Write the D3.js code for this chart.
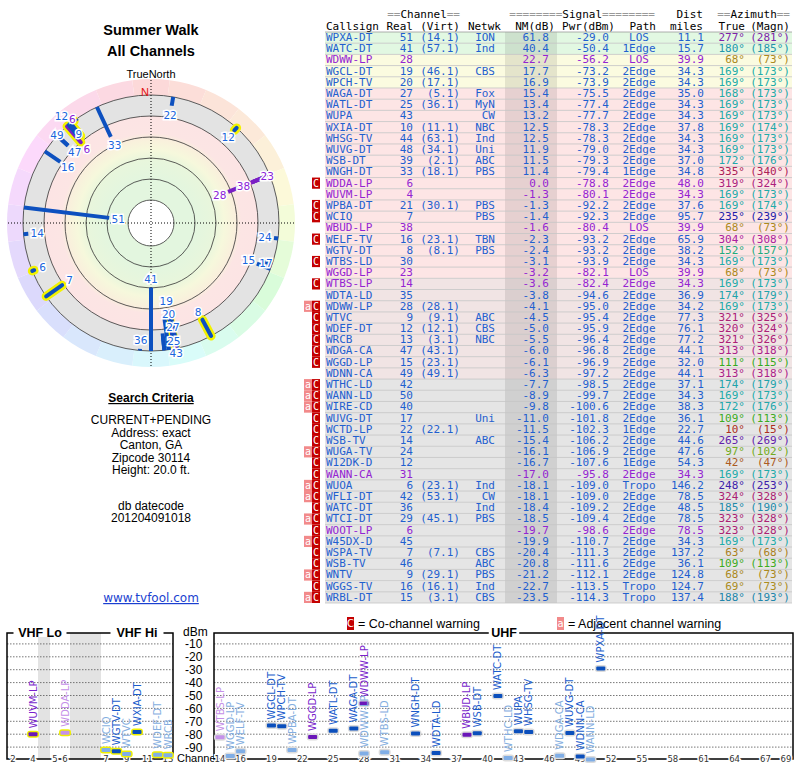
<!DOCTYPE html>
<html><head><meta charset="utf-8">
<script src="https://cdn.jsdelivr.net/npm/d3@7"></script>
<style>body{margin:0;background:#fff}</style>
</head><body>
<script>
// station table
const callsigns = ["WPXA-DT","WATC-DT","WDWW-LP","WGCL-DT","WPCH-TV","WAGA-DT","WATL-DT","WUPA","WXIA-DT","WHSG-TV","WUVG-DT","WSB-DT","WNGH-DT","WDDA-LP","WUVM-LP","WPBA-DT","WCIQ","WBUD-LP","WELF-TV","WGTV-DT","WTBS-LD","WGGD-LP","WTBS-LP","WDTA-LD","WDWW-LP","WTVC","WDEF-DT","WRCB","WDGA-CA","WGGD-LP","WDNN-CA","WTHC-LD","WANN-LD","WIRE-CD","WUVG-DT","WCTD-LP","WSB-TV","WUGA-TV","W12DK-D","WANN-CA","WUOA","WFLI-DT","WATC-DT","WTCI-DT","WOOT-LP","W45DX-D","WSPA-TV","WSB-TV","WNTV","WGGS-TV","WRBL-DT"];
const realCh = [51,41,28,19,20,27,25,43,10,44,48,39,33,6,4,21,7,38,16,8,30,23,14,35,28,9,12,13,47,15,49,42,50,40,17,22,14,24,12,31,6,42,36,29,6,45,7,46,9,16,15];
const virtCh = ["14.1","57.1","","46.1","17.1","5.1","36.1","","11.1","63.1","34.1","2.1","18.1","","","30.1","","","23.1","8.1","","","","","28.1","9.1","12.1","3.1","43.1","23.1","49.1","","","","","22.1","","","","","23.1","53.1","","45.1","","","7.1","","29.1","16.1","3.1"];
const networks = ["ION","Ind","","CBS","","Fox","MyN","CW","NBC","Ind","Uni","ABC","PBS","","","PBS","PBS","","TBN","PBS","","","","","","ABC","CBS","NBC","","","","","","","Uni","","ABC","","","","Ind","CW","Ind","PBS","","","CBS","ABC","PBS","Ind","CBS"];
const nmDb = [61.8,40.4,22.7,17.7,16.9,15.4,13.4,13.2,12.5,12.5,11.9,11.5,11.4,0.0,-1.3,-1.3,-1.4,-1.6,-2.3,-2.4,-3.1,-3.2,-3.6,-3.8,-4.1,-4.5,-5.0,-5.5,-6.0,-6.1,-6.3,-7.7,-8.9,-9.8,-11.0,-11.5,-15.4,-16.1,-16.7,-17.0,-18.1,-18.1,-18.4,-18.5,-19.7,-19.9,-20.4,-20.8,-21.2,-22.7,-23.5];
const pwrDbm = [-29.0,-50.4,-56.2,-73.2,-73.9,-75.5,-77.4,-77.7,-78.3,-78.3,-79.0,-79.3,-79.4,-78.8,-80.1,-92.2,-92.3,-80.4,-93.2,-93.2,-93.9,-82.1,-82.4,-94.6,-95.0,-95.4,-95.9,-96.4,-96.8,-96.9,-97.2,-98.5,-99.7,-100.6,-101.8,-102.3,-106.2,-106.9,-107.6,-95.8,-109.0,-109.0,-109.2,-109.4,-98.6,-110.7,-111.3,-111.6,-112.1,-113.5,-114.3];
const paths = ["LOS","1Edge","LOS","2Edge","2Edge","2Edge","2Edge","2Edge","2Edge","2Edge","2Edge","2Edge","1Edge","2Edge","2Edge","2Edge","2Edge","LOS","2Edge","2Edge","2Edge","LOS","2Edge","2Edge","2Edge","2Edge","2Edge","2Edge","2Edge","2Edge","2Edge","2Edge","2Edge","2Edge","2Edge","1Edge","2Edge","2Edge","1Edge","2Edge","Tropo","2Edge","2Edge","2Edge","2Edge","2Edge","2Edge","2Edge","2Edge","Tropo","Tropo"];
const distMiles = [11.1,15.7,39.9,34.3,34.3,35.0,34.3,34.3,37.8,34.3,34.3,37.0,34.8,48.0,34.3,37.6,95.7,39.9,65.9,38.2,34.3,39.9,34.3,36.9,34.2,77.3,76.1,77.2,44.1,32.0,44.1,37.1,34.3,38.3,36.1,22.7,44.6,47.6,54.3,34.3,146.2,78.5,48.5,78.5,78.5,34.3,137.2,36.1,124.8,124.7,137.4];
const azTrue = [277,180,68,169,169,168,169,169,169,169,169,172,335,319,169,169,235,68,304,152,169,68,169,174,169,321,320,321,313,111,313,174,169,172,109,10,265,97,42,169,248,324,185,323,323,169,63,109,68,69,188];
const azMagn = [281,185,73,173,173,173,173,173,174,173,173,176,340,324,173,174,239,73,308,157,173,73,173,179,173,325,324,326,318,115,318,179,173,176,113,15,269,102,47,173,253,328,190,328,328,173,68,113,73,73,193];
const lowPower = [0,0,1,0,0,0,0,0,0,0,0,0,0,1,1,0,0,1,0,0,0,1,1,0,0,0,0,0,0,0,0,0,0,0,0,0,0,0,0,1,0,0,0,0,1,0,0,0,0,0,0];
const warnings = ["","","","","","","","","","","","","","C","","C","C","","C","","C","","C","","aC","C","C","C","C","C","","aC","aC","aC","C","C","C","aC","C","C","aC","aC","C","aC","C","aC","C","C","aC","C","aC"];

const ringDb = [80,60,40,20,0,-20];
const dbmTicks = [-10,-20,-30,-40,-50,-60,-70,-80,-90];
const vhfTicks = [2,4,5,6,7,9,11,13];
const uhfTicks = [14,16,19,22,25,28,31,34,37,40,43,46,49,52,55,58,61,64,67,69];

const stations = callsigns.map((c,i) => ({
  call:c, ch:realCh[i], virt:virtCh[i], net:networks[i], nm:nmDb[i], pwr:pwrDbm[i],
  path:paths[i], dist:distMiles[i], az:azTrue[i], azm:azMagn[i], lp:lowPower[i], warn:warnings[i], i
}));

const SANS = "'Liberation Sans', Arial, sans-serif";
const DJ = "'DejaVu Sans', Verdana, sans-serif";
const MONO = "'DejaVu Sans Mono', monospace";
const BLUE = "#1f60cf", PURPLE = "#9424d2";

const svg = d3.select("body").append("svg").attr("width",800).attr("height",768)
  .style("font-family", SANS);

const hue = d3.scaleLinear().domain([0,42,68,97,110,170,235,360]).range([0,25,45,85,110,180,240,360]);
const azColor = a => d3.hsl(hue(a), 0.68, 0.4).formatHex();
const azPale = a => d3.hsl(hue(a), 0.85, 0.92).formatHex();

// ---------- titles ----------
svg.append("text").attr("x",151).attr("y",35).attr("text-anchor","middle")
  .style("font-weight","bold").style("font-size","14.5px").text("Summer Walk");
svg.append("text").attr("x",151).attr("y",56).attr("text-anchor","middle")
  .style("font-weight","bold").style("font-size","14.5px").text("All Channels");
svg.append("text").attr("x",151).attr("y",78).attr("text-anchor","middle")
  .style("font-size","11px").text("TrueNorth");

// ---------- polar plot ----------
const cx = 151, cy = 223;
const rScale = d3.scaleLinear().domain([80,-20]).range([23,128]);
const polar = svg.append("g").attr("transform",`translate(${cx},${cy})`);

const defs = svg.append("defs");
const grad = defs.append("radialGradient").attr("id","zones").attr("gradientUnits","userSpaceOnUse")
  .attr("cx",0).attr("cy",0).attr("r",rScale(-20));
[[rScale(60),"#e3f6df"],[rScale(42),"#e8f6dc"],[rScale(32),"#f6f8dc"],[rScale(22),"#f9f0dc"],
 [rScale(16),"#fce5e4"],[rScale(0),"#fce4e4"],[rScale(0)+0.01,"#e3e3e3"],[rScale(-20),"#e3e3e3"]]
  .forEach(([r,c]) => grad.append("stop").attr("offset", r/rScale(-20)).attr("stop-color",c));

const wedges = d3.range(0,360,15);
const wedgeArc = d3.arc().innerRadius(rScale(-20)).outerRadius(144);
polar.selectAll("path.wedge").data(wedges).join("path").attr("class","wedge")
  .attr("d", a => wedgeArc({startAngle:(a-7.5)*Math.PI/180, endAngle:(a+7.5)*Math.PI/180}))
  .attr("fill", a => azPale(a));
polar.append("circle").attr("r",rScale(-20)).attr("fill","url(#zones)");
polar.append("circle").attr("r",rScale(80)).attr("fill","#fff");
polar.selectAll("circle.ring").data(ringDb).join("circle").attr("class","ring")
  .attr("r", d => rScale(d)).attr("fill","none").attr("stroke","#333").attr("stroke-width",0.8);
polar.append("line").attr("x1",-143).attr("x2",143).attr("stroke","#000").attr("stroke-dasharray","1,2");
polar.append("line").attr("y1",-143).attr("y2",143).attr("stroke","#000").attr("stroke-dasharray","1,2");
polar.append("text").attr("x",-6).attr("y",-rScale(-20)+1).attr("text-anchor","middle")
  .style("font-size","11px").attr("fill","#e01010").text("N");

const polarData = stations.filter(d => d.nm >= -20);
const rad = a => a*Math.PI/180;
const spoke = d => {
  const [x1,y1] = d3.pointRadial(rad(d.az), rScale(-20));
  const [x2,y2] = d3.pointRadial(rad(d.az), rScale(d.nm));
  return `M${x1},${y1}L${x2},${y2}`;
};
polar.selectAll("path.halo").data(polarData.filter(d => d.ch < 14)).join("path").attr("class","halo")
  .attr("d", spoke).attr("stroke","#f2f200").attr("stroke-width",9).attr("stroke-linecap","round").attr("fill","none");
polar.selectAll("path.spoke").data(polarData).join("path").attr("class","spoke")
  .attr("d", spoke).attr("stroke", d => d.lp ? "#7a1fc4" : "#0d50bf")
  .attr("stroke-width",4).attr("stroke-linecap", d => d.ch < 14 ? "round" : "butt").attr("fill","none");

// channel labels, pushed outward when they collide
const placed = [];
polarData.forEach(d => {
  const w = String(d.ch).length*6.5 + 1;
  for (let r = rScale(d.nm) - 9; r <= 142; r += 12) {
    const [px,py] = d3.pointRadial(rad(d.az), r);
    if (!placed.some(p => Math.abs(p.x-px) < (p.w+w)/2 && Math.abs(p.y-py) < 10)) {
      placed.push({x:px, y:py, w, d});
      break;
    }
  }
});
polar.selectAll("text.lab").data(placed).join("text").attr("class","lab")
  .attr("x", p => p.x).attr("y", p => p.y + 4).attr("text-anchor","middle")
  .style("font-family", DJ).style("font-size","10.5px")
  .attr("fill", p => p.d.lp ? "#8a22d8" : "#1a66dd")
  .attr("stroke","#fff").attr("stroke-width",3).attr("paint-order","stroke")
  .text(p => p.d.ch);

// ---------- search criteria ----------
svg.append("text").attr("x",151).attr("y",402).attr("text-anchor","middle")
  .style("font-weight","bold").style("font-size","12px").style("text-decoration","underline").text("Search Criteria");
const criteria = ["CURRENT+PENDING","Address: exact","Canton, GA","Zipcode 30114","Height: 20.0 ft."];
svg.selectAll("text.crit").data(criteria).join("text").attr("class","crit")
  .attr("x",151).attr("y",(d,i) => 424 + i*12.5).attr("text-anchor","middle")
  .style("font-size","12px").text(d => d);
svg.append("text").attr("x",151).attr("y",510).attr("text-anchor","middle").style("font-size","12px").text("db datecode");
svg.append("text").attr("x",151).attr("y",522).attr("text-anchor","middle").style("font-size","12px").text("201204091018");
svg.append("text").attr("x",151).attr("y",602).attr("text-anchor","middle")
  .style("font-family",DJ).style("font-size","12px").style("text-decoration","underline")
  .attr("fill","#1a3fd0").text("www.tvfool.com");

// ---------- table ----------
const rowY = d3.scaleBand().domain(stations.map(d => d.i)).range([32,603]);
const rowFill = nm => nm >= 30 ? "#e2f8e2" : nm >= 16 ? "#fbfbe0" : nm >= -3.5 ? "#fde5e5" : nm >= -7 ? "#f1e4e4" : "#e5e5e5";
const tbl = svg.append("g").style("font-family", MONO).style("font-size","11px");

tbl.selectAll("rect.row").data(stations).join("rect").attr("class","row")
  .attr("x",325).attr("y", d => rowY(d.i)).attr("width",467).attr("height",rowY.bandwidth())
  .attr("fill", d => rowFill(d.nm));
tbl.append("rect").attr("x",505).attr("y",32).attr("width",52).attr("height",571).attr("fill","#000").attr("opacity",0.09);
tbl.selectAll("line.sep").data(stations).join("line").attr("class","sep")
  .attr("x1",325).attr("x2",792).attr("y1", d => rowY(d.i)+rowY.bandwidth()).attr("y2", d => rowY(d.i)+rowY.bandwidth())
  .attr("stroke","#c4c4c4").attr("stroke-width",0.8);
tbl.append("line").attr("x1",325).attr("x2",792).attr("y1",32).attr("y2",32).attr("stroke","#999").attr("stroke-width",0.8);

// header
const hdr1 = [["==","Channel","==",460],["========","Signal","========",655],["","Dist","",703],["==","Azimuth","==",790]];
hdr1.forEach(([a,b,c,x]) => {
  const t = tbl.append("text").attr("x",x).attr("y",18).attr("text-anchor","end");
  t.append("tspan").attr("fill","#999").text(a);
  t.append("tspan").attr("fill","#000").text(b);
  t.append("tspan").attr("fill","#999").text(c);
});
const hdr2 = [["Callsign",326,"start"],["Real",413,"end"],["(Virt)",460,"end"],["Netwk",501,"end"],["NM(dB)",555,"end"],
  ["Pwr(dBm)",615,"end"],["Path",656,"end"],["miles",703,"end"],["True",745,"end"],["(Magn)",790,"end"]];
tbl.selectAll("text.h2").data(hdr2).join("text").attr("class","h2")
  .attr("x", d => d[1]).attr("y",29.5).attr("text-anchor", d => d[2]).text(d => d[0]);

const cols = [
  {x:326, a:"start", f:d => d.call},
  {x:413, a:"end", f:d => d.ch},
  {x:460, a:"end", f:d => d.virt ? `(${d.virt})` : ""},
  {x:495, a:"end", f:d => d.net},
  {x:549, a:"end", f:d => d.nm.toFixed(1)},
  {x:609, a:"end", f:d => d.pwr.toFixed(1)},
  {x:639, a:"middle", f:d => d.path},
  {x:704, a:"end", f:d => d.dist.toFixed(1)},
  {x:745, a:"end", f:d => d.az + "°", az:true},
  {x:790, a:"end", f:d => `(${d.azm}°)`, az:true}
];
const rows = tbl.selectAll("g.r").data(stations).join("g").attr("class","r")
  .attr("transform", d => `translate(0,${rowY(d.i) + 9})`);
cols.forEach(c => {
  rows.append("text").attr("x",c.x).attr("text-anchor",c.a)
    .attr("fill", d => c.az ? azColor(d.az) : (d.lp ? PURPLE : BLUE)).text(c.f);
});
// warning flags
rows.filter(d => d.warn.includes("C")).append("rect").attr("x",312).attr("y",-9)
  .attr("width",8).attr("height",rowY.bandwidth()).attr("fill","#c40000");
rows.filter(d => d.warn.includes("C")).append("text").attr("x",316).attr("text-anchor","middle")
  .attr("fill","#fff").style("font-size","10px").text("C");
rows.filter(d => d.warn.includes("a")).append("rect").attr("x",304).attr("y",-9)
  .attr("width",8).attr("height",rowY.bandwidth()).attr("fill","#f28a8a");
rows.filter(d => d.warn.includes("a")).append("text").attr("x",308).attr("text-anchor","middle")
  .attr("fill","#fff").style("font-size","10px").text("a");

// ---------- spectrum ----------
const yDbm = d3.scaleLinear().domain([0,-100]).range([631,760]);
const xVHF = d3.scaleLinear().domain([2,4,5,6,7,13]).range([13,33,55,65,106,168]);
const xUHF = d3.scaleLinear().domain([14,69]).range([220,786]);
const spec = svg.append("g").style("font-family", DJ);
const yTop = 633, yBot = 759;

// gaps in VHF band
[[4,5],[6,7]].forEach(([a,b]) => spec.append("rect").attr("x",xVHF(a)+5).attr("y",yTop)
  .attr("width",xVHF(b)-xVHF(a)-10).attr("height",yBot-yTop).attr("fill","#e3e3e3"));

const panels = [{x0:7,x1:173},{x0:214,x1:793}];
panels.forEach(p => {
  spec.selectAll(null).data(dbmTicks).join("line")
    .attr("x1",p.x0).attr("x2",p.x1).attr("y1",d => yDbm(d)).attr("y2",d => yDbm(d))
    .attr("stroke","#555").attr("stroke-width",0.8).attr("stroke-dasharray","1.5,1.5");
  spec.append("rect").attr("x",p.x0).attr("y",yTop).attr("width",p.x1-p.x0).attr("height",yBot-yTop)
    .attr("fill","none").attr("stroke","#000").attr("stroke-width",1.5);
});

// panel titles sitting on the frame
[["VHF Lo",40],["VHF Hi",137],["UHF",504]].forEach(([t,x]) => {
  const w = t.length*7.5 + 8;
  spec.append("rect").attr("x",x-w/2).attr("y",yTop-4).attr("width",w).attr("height",8).attr("fill","#fff");
  spec.append("text").attr("x",x).attr("y",yTop+4).attr("text-anchor","middle")
    .style("font-family",SANS).style("font-weight","bold").style("font-size","12.5px").text(t);
});

// dBm axis
spec.append("text").attr("x",183).attr("y",yTop+3).style("font-family",SANS).style("font-size","12px").text("dBm");
spec.selectAll("text.dbm").data(dbmTicks).join("text").attr("class","dbm")
  .attr("x",185).attr("y",d => yDbm(d)+4.5).style("font-family",SANS).style("font-size","12px").text(d => d);
spec.append("text").attr("x",177).attr("y",yBot+3).style("font-family",SANS).style("font-size","11px").text("Channel");

// channel axes
const tickLabels = (ticks, x) => spec.selectAll(null).data(ticks).join("text")
  .attr("x", d => x(d)).attr("y", yBot+3).attr("text-anchor","middle")
  .style("font-size","8.5px").attr("fill","#333")
  .attr("stroke","#fff").attr("stroke-width",3).attr("paint-order","stroke").text(d => d);
tickLabels(vhfTicks, xVHF);
tickLabels(uhfTicks, xUHF);

// legend
spec.append("rect").attr("x",347).attr("y",617).attr("width",7).attr("height",13).attr("fill","#c40000");
spec.append("text").attr("x",350.5).attr("y",627).attr("text-anchor","middle").attr("fill","#fff").style("font-size","10px").text("C");
spec.append("text").attr("x",358).attr("y",628).style("font-size","12.5px").style("font-family",SANS).text("= Co-channel warning");
spec.append("rect").attr("x",557).attr("y",617).attr("width",7).attr("height",13).attr("fill","#f28a8a");
spec.append("text").attr("x",560.5).attr("y",627).attr("text-anchor","middle").attr("fill","#fff").style("font-size","10px").text("a");
spec.append("text").attr("x",568).attr("y",628).style("font-size","12.5px").style("font-family",SANS).text("= Adjacent channel warning");

const specData = stations.filter(d => d.nm > -10 && d.pwr >= -100)
  .map(d => ({...d, x: d.ch < 14 ? xVHF(d.ch) : xUHF(d.ch), light: d.warn.includes("C")}));
const markFill = d => d.lp ? (d.light ? "#c592ea" : "#6a17b8") : (d.light ? "#80aee6" : "#0b4fbc");
const labFill = d => d.lp ? (d.light ? "#c590e8" : "#7a1fcc") : (d.light ? "#84aee0" : "#1a5ccc");

spec.selectAll("rect.mh").data(specData).join("rect").attr("class","mh")
  .attr("x", d => d.x-6).attr("y", d => yDbm(d.pwr)-3.5).attr("width",12).attr("height",7).attr("rx",3)
  .attr("fill", d => d.ch < 14 ? "#f0f000" : "#dcdcdc");
spec.selectAll("rect.mk").data(specData).join("rect").attr("class","mk")
  .attr("x", d => d.x-4.5).attr("y", d => yDbm(d.pwr)-2).attr("width",9).attr("height",4).attr("rx",1)
  .attr("fill", markFill);
spec.selectAll("text.sl").data(specData).join("text").attr("class","sl")
  .attr("transform", d => `translate(${d.x+3.5},${yDbm(d.pwr)-6}) rotate(-90)`)
  .style("font-size","10px").attr("fill", labFill).text(d => d.call);
</script>
</body></html>
